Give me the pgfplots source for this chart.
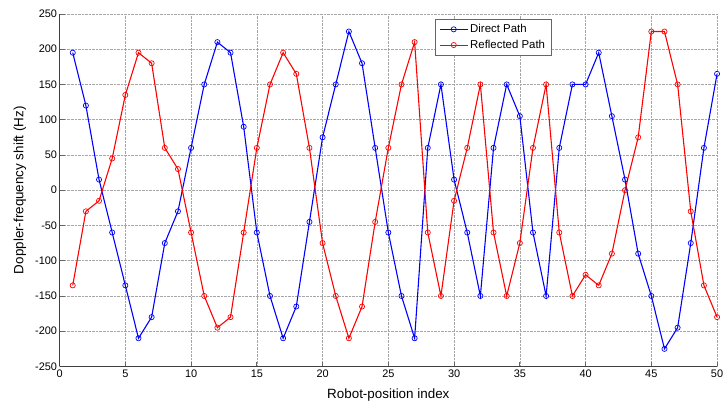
\documentclass[border=0pt]{standalone}
\usepackage{pgfplots}
\pgfplotsset{compat=1.18}
\usepackage{fontspec}
\setmainfont{Liberation Sans}
\begin{document}
\begin{tikzpicture}
\begin{axis}[
  name=ax,
  scale only axis,
  width=662pt, height=355pt,
  xmin=0, xmax=50, ymin=-250, ymax=250,
  xtick={0,5,...,50}, ytick={-250,-200,...,250},
  axis x line*=bottom, axis y line*=left,
  axis line style={black!75, line width=0.8pt},
  tick style={black!60, line width=0.8pt},
  tick align=inside,
  major tick length=5pt,
  grid=major,
  grid style={densely dotted, gray!70, line width=0.5pt},
  tick label style={font=\fontsize{11}{12}\selectfont},
  yticklabel style={xshift=1pt},
  /pgf/number format/assume math mode=true,
  xlabel={Robot-position index},
  ylabel={Doppler-frequency shift (Hz)},
  label style={font=\fontsize{13.5}{15}\selectfont},
  xlabel style={at={(rel axis cs:0.5,0)}, anchor=center, yshift=-29pt},
  ylabel style={at={(rel axis cs:0,0.5)}, anchor=center, yshift=40pt},
  legend style={at={(rel axis cs:0.571,0.985)}, anchor=north west, draw=black!60, line width=0.6pt,
    font=\fontsize{11.5}{12}\selectfont, row sep=2pt, inner xsep=4pt, inner ysep=3pt},
  legend cell align=left,
  legend image code/.code={\draw[mark repeat=2,mark phase=2] plot coordinates {(0pt,0pt) (14pt,0pt) (28pt,0pt)};},
  every axis plot/.append style={line width=1.1pt, mark=o, mark size=2.6pt, mark options={line width=0.7pt}},
]
\addplot[color=blue] coordinates {
(1,195)(2,120)(3,15)(4,-60)(5,-135)(6,-210)(7,-180)(8,-75)(9,-30)(10,60)
(11,150)(12,210)(13,195)(14,90)(15,-60)(16,-150)(17,-210)(18,-165)(19,-45)(20,75)
(21,150)(22,225)(23,180)(24,60)(25,-60)(26,-150)(27,-210)(28,60)(29,150)(30,15)
(31,-60)(32,-150)(33,60)(34,150)(35,105)(36,-60)(37,-150)(38,60)(39,150)(40,150)
(41,195)(42,105)(43,15)(44,-90)(45,-150)(46,-225)(47,-195)(48,-75)(49,60)(50,165)
};
\addlegendentry{Direct Path}
\addplot[color=red] coordinates {
(1,-135)(2,-30)(3,-15)(4,45)(5,135)(6,195)(7,180)(8,60)(9,30)(10,-60)
(11,-150)(12,-195)(13,-180)(14,-60)(15,60)(16,150)(17,195)(18,165)(19,60)(20,-75)
(21,-150)(22,-210)(23,-165)(24,-45)(25,60)(26,150)(27,210)(28,-60)(29,-150)(30,-15)
(31,60)(32,150)(33,-60)(34,-150)(35,-75)(36,60)(37,150)(38,-60)(39,-150)(40,-120)
(41,-135)(42,-90)(43,0)(44,75)(45,225)(46,225)(47,150)(48,-30)(49,-135)(50,-180)
};
\addlegendentry{Reflected Path}
\end{axis}
\pgfresetboundingbox
\path ([shift={(-60pt,-42pt)}]ax.south west) rectangle ([shift={(9pt,14pt)}]ax.north east);
\end{tikzpicture}
\end{document}
